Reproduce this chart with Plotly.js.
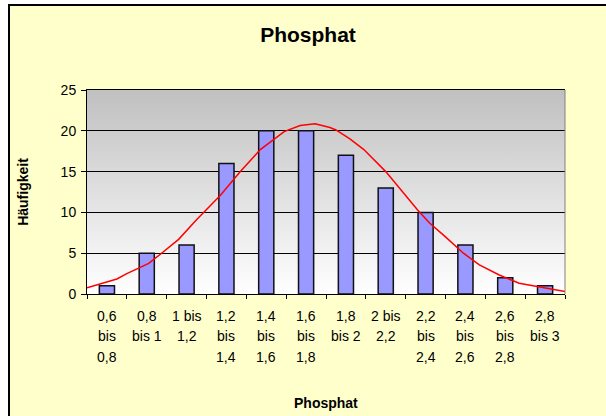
<!DOCTYPE html>
<html>
<head>
<meta charset="utf-8">
<script src="https://cdn.plot.ly/plotly-3.0.1.min.js"></script>
<style>
html,body{margin:0;padding:0;background:#ffffff;width:606px;height:416px;overflow:hidden;}
#wrap{position:absolute;left:8px;top:4px;border-left:2px solid #000;border-top:2px solid #000;background:#FFFFCC;}
#chart{width:596px;height:410px;}
</style>
</head>
<body>
<div id="wrap"><div id="chart"></div></div>
<script>
// ---- data ----
const categories = ["0,6 bis 0,8","0,8 bis 1","1 bis 1,2","1,2 bis 1,4","1,4 bis 1,6","1,6 bis 1,8","1,8 bis 2","2 bis 2,2","2,2 bis 2,4","2,4 bis 2,6","2,6 bis 2,8","2,8 bis 3"];
const tickLines = [["0,6","bis","0,8"],["0,8","bis 1"],["1 bis","1,2"],["1,2","bis","1,4"],["1,4","bis","1,6"],["1,6","bis","1,8"],["1,8","bis 2"],["2 bis","2,2"],["2,2","bis","2,4"],["2,4","bis","2,6"],["2,6","bis","2,8"],["2,8","bis 3"]];
const counts = [1, 5, 6, 16, 20, 20, 17, 13, 10, 6, 2, 1];
const curveX = [0.6, 0.75, 0.8, 0.91, 0.97, 1.06, 1.15, 1.27, 1.37, 1.47, 1.59, 1.67, 1.745, 1.82, 1.85, 1.92, 1.99, 2.1, 2.26, 2.32, 2.4, 2.456, 2.49, 2.57, 2.67, 2.77, 2.89, 3.0];
const curveY = [0.77, 1.84, 2.5, 3.76, 4.9, 6.7, 9.1, 12.1, 15.0, 17.7, 19.9, 20.65, 20.86, 20.4, 20.1, 19.0, 17.7, 15.0, 10.3, 8.7, 7.0, 5.8, 5.0, 3.56, 2.33, 1.31, 0.78, 0.29];
const titleText = "Phosphat";
const xTitle = "Phosphat";
const yTitle = "Häufigkeit";

const FONT = '"Liberation Sans", Arial, sans-serif';

const svg = "<svg xmlns='http://www.w3.org/2000/svg' width='10' height='10' preserveAspectRatio='none'><defs><linearGradient id='g' x1='0' y1='0' x2='0' y2='1'><stop offset='0' stop-color='#C0C0C0'/><stop offset='1' stop-color='#FFFFFF'/></linearGradient></defs><rect width='10' height='10' fill='url(#g)'/></svg>";
const bgSrc = 'data:image/svg+xml;charset=utf-8,' + encodeURIComponent(svg);

const annotations = [];
const firstOffset = 21.7, lineGap = 20.7;
tickLines.forEach((lines, i) => {
  lines.forEach((t, k) => {
    annotations.push({
      x: i, xref: 'x', y: 0, yref: 'paper',
      text: t, showarrow: false, xanchor: 'center', yanchor: 'middle',
      yshift: -(firstOffset + k * lineGap),
      font: {family: FONT, size: 14, color: '#000'}
    });
  });
});
annotations.push({
  x: 0.5, xref: 'paper', y: 0, yref: 'paper', text: '<b>' + xTitle + '</b>',
  showarrow: false, xanchor: 'center', yanchor: 'middle', yshift: -109,
  font: {family: FONT, size: 14, color: '#000'}
});

const traces = [
  {
    type: 'bar', x: categories.map((c, i) => i), y: counts,
    width: 0.38,
    marker: {color: '#9999FF', line: {color: '#111', width: 1.5}},
    hoverinfo: 'skip', showlegend: false
  },
  {
    type: 'scatter', mode: 'lines', x: curveX, y: curveY, xaxis: 'x2',
    line: {color: '#FF0000', width: 1.5}, hoverinfo: 'skip', showlegend: false
  }
];

const layout = {
  width: 596, height: 410,
  margin: {l: 77, r: 41, t: 84, b: 122},
  paper_bgcolor: '#FFFFCC',
  plot_bgcolor: 'rgba(0,0,0,0)',
  font: {family: FONT, size: 14, color: '#000'},
  title: {text: titleText, font: {family: FONT, size: 21, weight: 'bold', color: '#000'},
          x: 0.5, xref: 'container', xanchor: 'center', y: 1 - 29/410, yref: 'container', yanchor: 'middle'},
  showlegend: false,
  xaxis: {
    type: 'linear', range: [-0.5, 11.5], tickmode: 'array',
    tickvals: categories.map((c, i) => i + 0.5).concat([-0.5]),
    ticktext: categories.map(() => '').concat(['']),
    showticklabels: false,
    ticks: 'outside', ticklen: 4, tickcolor: '#000', tickwidth: 1,
    showline: true, linecolor: '#000', linewidth: 1, mirror: true,
    showgrid: false, zeroline: false
  },
  xaxis2: {range: [0.6, 3.0], overlaying: 'x', visible: false, showgrid: false, zeroline: false},
  yaxis: {
    range: [0, 25], dtick: 5, tick0: 0,
    ticks: 'outside', ticklen: 5, tickcolor: '#000',
    showline: true, linecolor: '#000', linewidth: 1,
    showgrid: true, gridcolor: '#000', gridwidth: 1, zeroline: false,
    tickfont: {family: FONT, size: 14},
    ticklabelstandoff: 2,
    title: {text: yTitle, font: {family: FONT, size: 14, weight: 'bold'}, standoff: 28}
  },
  images: [{source: bgSrc, xref: 'paper', yref: 'paper', x: 0, y: 1, sizex: 1, sizey: 1,
            sizing: 'stretch', xanchor: 'left', yanchor: 'top', layer: 'below'}],
  shapes: [{type: 'line', xref: 'paper', yref: 'paper', x0: 1, x1: 1, y0: 0, y1: 1,
            line: {color: '#808080', width: 1}}],
  annotations: annotations
};

Plotly.newPlot('chart', traces, layout, {displayModeBar: false, staticPlot: true});
</script>
</body>
</html>
